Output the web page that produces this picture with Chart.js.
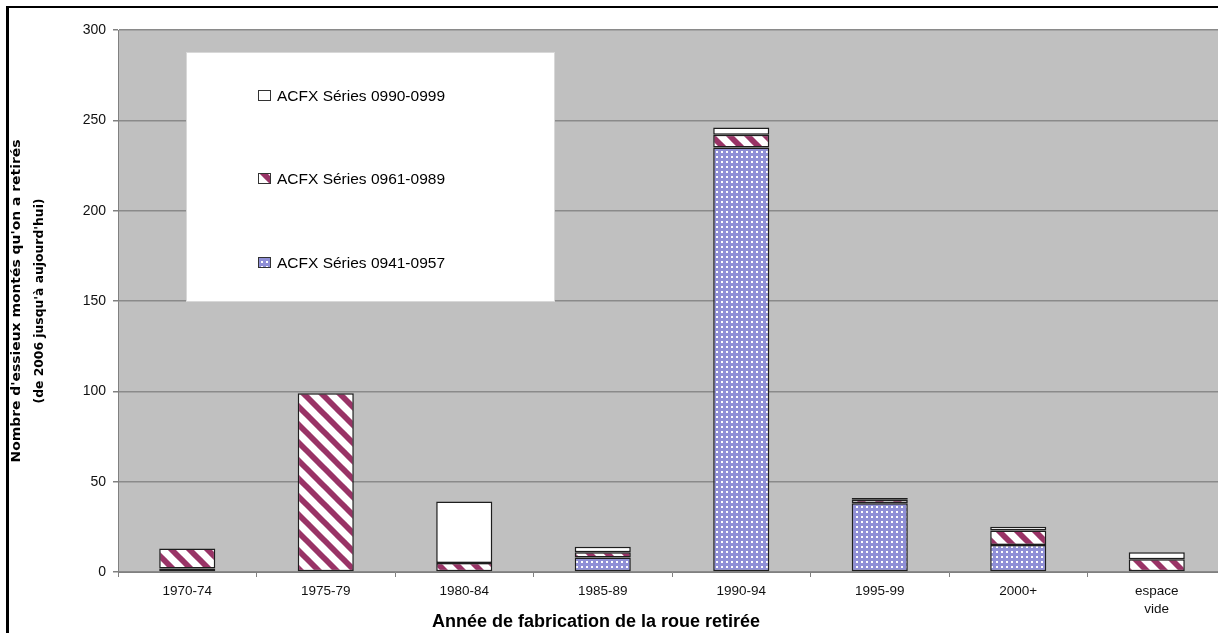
<!DOCTYPE html>
<html>
<head>
<meta charset="utf-8">
<script src="https://cdn.jsdelivr.net/npm/chart.js@4.4.1/dist/chart.umd.min.js"></script>
<style>
  html, body { margin: 0; padding: 0; background: #fff; overflow: hidden; }
  #wrap { position: relative; width: 1240px; height: 633px; }
</style>
</head>
<body>
<div id="wrap"><canvas id="c" width="1240" height="633"></canvas></div>
<script>
// Categories (year of manufacture of the retired wheel)
const categories = ['1970-74', '1975-79', '1980-84', '1985-89', '1990-94', '1995-99', '2000+', ['espace', 'vide']];

// Series names, bottom of the stack first
const seriesNames = ['ACFX Séries 0941-0957', 'ACFX Séries 0961-0989', 'ACFX Séries 0990-0999'];

// Wheelsets retired per series
const series0941 = [2, 0, 0, 8, 235, 38, 15, 0];
const series0961 = [11, 99, 5, 3, 7, 2, 8, 7];
const series0990 = [0, 0, 34, 3, 4, 1, 2, 4];

// Value axis
const yMin = 0;
const yMax = 300;
const yStep = 50;

// Axis titles
const yTitleLines = ["Nombre d'essieux montés qu'on a retirés", "(de 2006 jusqu'à aujourd'hui)"];
const xTitle = 'Année de fabrication de la roue retirée';

const canvas = document.getElementById('c');
const ctx = canvas.getContext('2d');

// Diagonal maroon hatching on white
function makeHatch() {
  const t = document.createElement('canvas');
  t.width = 18; t.height = 18;
  const g = t.getContext('2d');
  g.fillStyle = '#ffffff';
  g.fillRect(0, 0, 18, 18);
  g.strokeStyle = '#993366';
  g.lineWidth = 5.8;
  for (const k of [-18, 0, 18]) {
    g.beginPath();
    g.moveTo(k - 3, -3);
    g.lineTo(k + 21, 21);
    g.stroke();
  }
  return ctx.createPattern(t, 'repeat');
}

// Lavender fill with small white dots
function makeDots() {
  const t = document.createElement('canvas');
  t.width = 5; t.height = 5;
  const g = t.getContext('2d');
  g.fillStyle = '#8f8fd6';
  g.fillRect(0, 0, 5, 5);
  g.fillStyle = '#ffffff';
  g.fillRect(1, 1, 2, 2);
  return ctx.createPattern(t, 'repeat');
}

const hatch = makeHatch();
const dots = makeDots();
const orNull = v => (v === 0 ? null : v);

const barStyle = {
  borderColor: '#1e1e1e',
  borderWidth: 1.5,
  borderSkipped: false,
  categoryPercentage: 1.0,
  barPercentage: 0.405
};

const datasets = [
  Object.assign({ label: seriesNames[0], data: series0941.map(orNull), backgroundColor: dots }, barStyle),
  Object.assign({ label: seriesNames[1], data: series0961.map(orNull), backgroundColor: hatch }, barStyle),
  Object.assign({ label: seriesNames[2], data: series0990.map(orNull), backgroundColor: '#ffffff' }, barStyle)
];

// Grey plot area and the black frame lines
const backdrop = {
  id: 'backdrop',
  beforeDraw(chart) {
    const c = chart.ctx, a = chart.chartArea;
    c.save();
    c.fillStyle = '#c0c0c0';
    c.fillRect(a.left, a.top, a.right - a.left, a.bottom - a.top);
    c.fillStyle = '#000';
    c.fillRect(6, 6, chart.width, 2);
    c.fillRect(6, 6, 3, chart.height);
    c.restore();
  }
};

// Legend box inside the plot area, top series listed first
const boxLegend = {
  id: 'boxLegend',
  afterDraw(chart) {
    const c = chart.ctx, a = chart.chartArea;
    const bx = a.left + 68, by = a.top + 22, bw = 369, bh = 250;
    c.save();
    c.fillStyle = '#ffffff';
    c.fillRect(bx, by, bw, bh);
    c.strokeStyle = '#d8d8d8';
    c.lineWidth = 1;
    c.strokeRect(bx + 0.5, by + 0.5, bw - 1, bh - 1);
    const rows = [44, 127, 211];
    const items = chart.data.datasets.slice().reverse();
    c.font = '15.5px "Liberation Sans", Arial, sans-serif';
    c.textBaseline = 'middle';
    c.textAlign = 'left';
    items.forEach((ds, i) => {
      const cy = by + rows[i];
      c.fillStyle = ds.backgroundColor;
      c.fillRect(bx + 72, cy - 6, 13, 11);
      c.strokeStyle = '#333';
      c.strokeRect(bx + 72.5, cy - 5.5, 12, 10);
      c.fillStyle = '#000';
      c.fillText(ds.label, bx + 91, cy + 1);
    });
    c.restore();
  }
};

// Axis titles
const axisTitles = {
  id: 'axisTitles',
  afterDraw(chart) {
    const c = chart.ctx, a = chart.chartArea;
    c.save();
    c.fillStyle = '#000';
    c.textAlign = 'center';
    c.textBaseline = 'middle';
    // vertical title, two lines
    c.font = 'bold 12px "DejaVu Sans", sans-serif';
    const lengths = [323, 205];
    const cy = (a.top + a.bottom) / 2;
    [17, 40].forEach((x, i) => {
      const w = c.measureText(yTitleLines[i]).width;
      c.save();
      c.translate(x, cy);
      c.rotate(-Math.PI / 2);
      c.scale(lengths[i] / w, 1);
      c.fillText(yTitleLines[i], 0, 0);
      c.restore();
    });
    // horizontal title
    c.font = 'bold 18px "Liberation Sans", Arial, sans-serif';
    c.fillText(xTitle, a.left + 478, 622);
    c.restore();
  }
};

new Chart(canvas, {
  type: 'bar',
  data: { labels: categories, datasets },
  options: {
    responsive: false,
    devicePixelRatio: 1,
    animation: false,
    layout: { padding: { left: 0, top: 30, right: 14, bottom: 0 } },
    plugins: {
      legend: { display: false },
      tooltip: { enabled: false }
    },
    scales: {
      x: {
        stacked: true,
        afterFit(scale) { scale.height = 61; },
        grid: {
          drawOnChartArea: false,
          drawTicks: true,
          tickLength: 5,
          tickColor: '#808080'
        },
        border: { display: true, color: '#808080', width: 1 },
        ticks: {
          color: '#111',
          padding: 6,
          maxRotation: 0,
          autoSkip: false,
          font: { family: '"Liberation Sans", Arial, sans-serif', size: 13.5, lineHeight: 1.3 }
        }
      },
      y: {
        stacked: true,
        min: yMin,
        max: yMax,
        afterFit(scale) { scale.width = 118; },
        grid: {
          color: '#8a8a8a',
          lineWidth: 1.5,
          drawTicks: true,
          tickLength: 5,
          tickColor: '#808080'
        },
        border: { display: true, color: '#808080', width: 1 },
        ticks: {
          stepSize: yStep,
          color: '#111',
          padding: 7,
          font: { family: '"Liberation Sans", Arial, sans-serif', size: 14 }
        }
      }
    }
  },
  plugins: [backdrop, boxLegend, axisTitles]
});
</script>
</body>
</html>
